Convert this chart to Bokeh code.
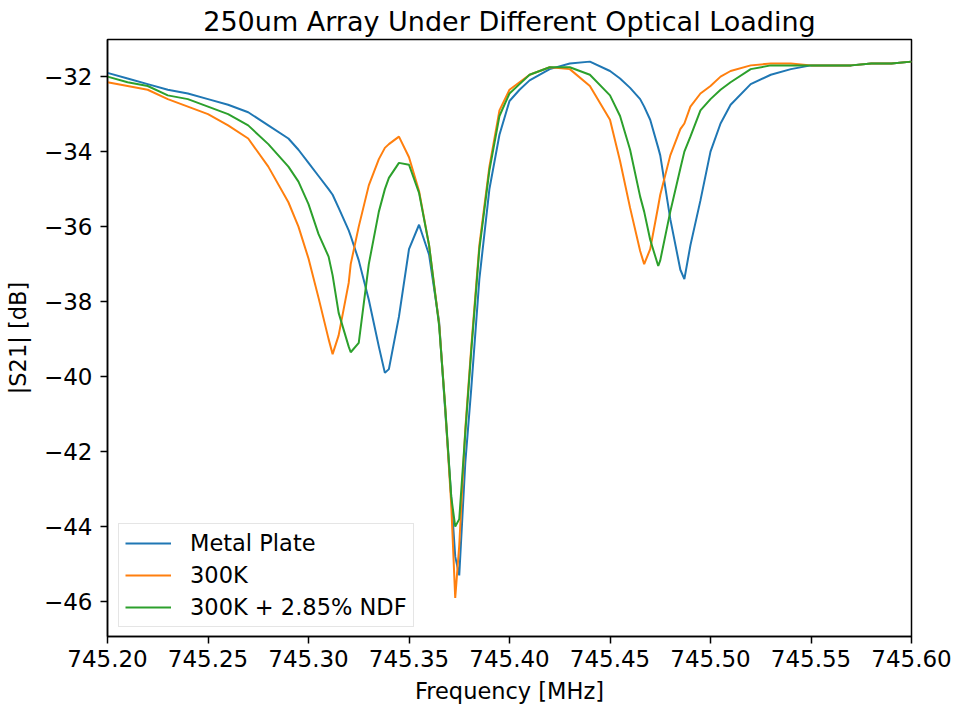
from bokeh.plotting import figure
from bokeh.models import Range1d, FixedTicker, Legend, LegendItem
from bokeh.embed import file_html
from bokeh.resources import INLINE

# Frequency grid [MHz]
freq = [745.200, 745.210, 745.220, 745.230, 745.240, 745.250, 745.260, 745.270, 745.280,
        745.290, 745.295, 745.300, 745.305, 745.310, 745.312, 745.315, 745.320, 745.321,
        745.325, 745.330, 745.335, 745.338, 745.340, 745.345, 745.350, 745.355, 745.360,
        745.365, 745.368, 745.371, 745.373, 745.375, 745.378, 745.381, 745.385, 745.390,
        745.395, 745.400, 745.405, 745.410, 745.420, 745.430, 745.440, 745.450, 745.455,
        745.460, 745.465, 745.467, 745.470, 745.474, 745.475, 745.480, 745.485, 745.487,
        745.490, 745.495, 745.500, 745.505, 745.510, 745.520, 745.530, 745.540, 745.550,
        745.560, 745.570, 745.580, 745.590, 745.600]

metal_plate = [-31.90, -32.05, -32.20, -32.35, -32.45, -32.60, -32.75, -32.95, -33.30,
               -33.65, -33.95, -34.30, -34.65, -35.00, -35.15, -35.50, -36.10, -36.25,
               -36.90, -37.95, -39.20, -39.90, -39.80, -38.40, -36.60, -35.95, -36.75,
               -38.55, -40.90, -43.20, -44.80, -45.30, -42.30, -40.30, -37.40, -35.00,
               -33.55, -32.65, -32.35, -32.10, -31.80, -31.65, -31.60, -31.85, -32.05,
               -32.30, -32.60, -32.80, -33.15, -33.90, -34.10, -35.80, -37.15, -37.40,
               -36.50, -35.30, -34.00, -33.25, -32.75, -32.20, -31.95, -31.80, -31.70,
               -31.70, -31.70, -31.65, -31.65, -31.60]

load_300k = [-32.15, -32.25, -32.35, -32.60, -32.80, -33.00, -33.30, -33.65, -34.40,
             -35.35, -36.00, -36.85, -37.90, -39.00, -39.40, -38.90, -37.50, -37.00,
             -36.00, -34.90, -34.20, -33.90, -33.80, -33.60, -34.15, -35.05, -36.50,
             -38.60, -40.80, -43.40, -45.90, -44.50, -41.40, -39.20, -36.50, -34.40,
             -32.90, -32.35, -32.15, -31.95, -31.75, -31.80, -32.25, -33.15, -34.25,
             -35.50, -36.65, -37.00, -36.60, -35.45, -35.15, -34.10, -33.40, -33.25,
             -32.80, -32.45, -32.25, -32.00, -31.85, -31.70, -31.65, -31.65, -31.70,
             -31.70, -31.70, -31.65, -31.65, -31.60]

load_300k_ndf = [-32.00, -32.15, -32.25, -32.50, -32.60, -32.80, -33.00, -33.30, -33.80,
                 -34.40, -34.80, -35.40, -36.20, -36.80, -37.30, -38.30, -39.20, -39.35,
                 -39.10, -37.00, -35.60, -35.00, -34.70, -34.30, -34.35, -35.10, -36.50,
                 -38.65, -40.80, -43.20, -44.00, -43.80, -41.50, -39.30, -36.60, -34.50,
                 -33.05, -32.45, -32.20, -31.95, -31.75, -31.75, -31.95, -32.50, -33.05,
                 -33.95, -35.20, -35.60, -36.35, -37.05, -36.90, -35.60, -34.45, -34.00,
                 -33.60, -32.90, -32.60, -32.35, -32.15, -31.80, -31.70, -31.70, -31.70,
                 -31.70, -31.70, -31.65, -31.65, -31.60]

series_names = ["Metal Plate", "300K", "300K + 2.85% NDF"]
series_colors = ["#1f77b4", "#ff7f0e", "#2ca02c"]

x_ticks = [745.20, 745.25, 745.30, 745.35, 745.40, 745.45, 745.50, 745.55, 745.60]
x_tick_labels = ["745.20", "745.25", "745.30", "745.35", "745.40", "745.45", "745.50", "745.55", "745.60"]
y_ticks = [-46, -44, -42, -40, -38, -36, -34, -32]
y_tick_labels = ["\u221246", "\u221244", "\u221242", "\u221240", "\u221238", "\u221236", "\u221234", "\u221232"]

FONT = "DejaVu Sans"

p = figure(width=953, height=709, output_backend="svg", toolbar_location=None,
           x_range=Range1d(745.2, 745.6), y_range=Range1d(-46.93, -31.01),
           title="250um Array Under Different Optical Loading",
           min_border_left=107, min_border_right=42, min_border_top=39, min_border_bottom=73)

p.title.text_font = FONT
p.title.text_font_size = "27px"
p.title.text_font_style = "normal"
p.title.align = "center"
p.title.text_color = "black"
p.title.standoff = 6

renderers = []
for vals, name, col in zip([metal_plate, load_300k, load_300k_ndf], series_names, series_colors):
    r = p.line(freq, vals, line_color=col, line_width=2)
    renderers.append((name, r))

p.xgrid.visible = False
p.ygrid.visible = False
p.outline_line_color = "black"
p.outline_line_width = 1.5
p.background_fill_color = "white"
p.border_fill_color = "white"

p.xaxis.ticker = FixedTicker(ticks=x_ticks)
p.xaxis.major_label_overrides = {t: l for t, l in zip(x_ticks, x_tick_labels)}
p.yaxis.ticker = FixedTicker(ticks=y_ticks)
p.yaxis.major_label_overrides = {t: l for t, l in zip(y_ticks, y_tick_labels)}

for ax in (p.xaxis[0], p.yaxis[0]):
    ax.axis_line_color = "black"
    ax.axis_line_width = 1.5
    ax.major_tick_line_color = "black"
    ax.major_tick_line_width = 1.5
    ax.major_tick_out = 7
    ax.major_tick_in = 0
    ax.minor_tick_line_color = None
    ax.major_label_text_font = FONT
    ax.major_label_text_font_size = "23px"
    ax.major_label_text_color = "black"
    ax.axis_label_text_font = FONT
    ax.axis_label_text_font_size = "22.5px"
    ax.axis_label_text_font_style = "normal"
    ax.axis_label_text_color = "black"

p.xaxis.axis_label = "Frequency [MHz]"
p.yaxis.axis_label = "|S21| [dB]"
p.xaxis.major_label_standoff = 6
p.xaxis.axis_label_standoff = 8
p.yaxis.major_label_standoff = 8
p.yaxis.axis_label_standoff = 10

legend = Legend(items=[LegendItem(label=n, renderers=[r]) for n, r in renderers],
                location=(11, 9))
legend.label_text_font = FONT
legend.label_text_font_size = "22.5px"
legend.label_text_color = "black"
legend.glyph_width = 46
legend.glyph_height = 22
legend.label_standoff = 19
legend.padding = 6
legend.spacing = 6
legend.margin = 0
legend.border_line_color = "#cccccc"
legend.border_line_width = 1.5
legend.background_fill_alpha = 0.8
p.add_layout(legend, "center")

open("out.html", "w").write(file_html(p, INLINE))
